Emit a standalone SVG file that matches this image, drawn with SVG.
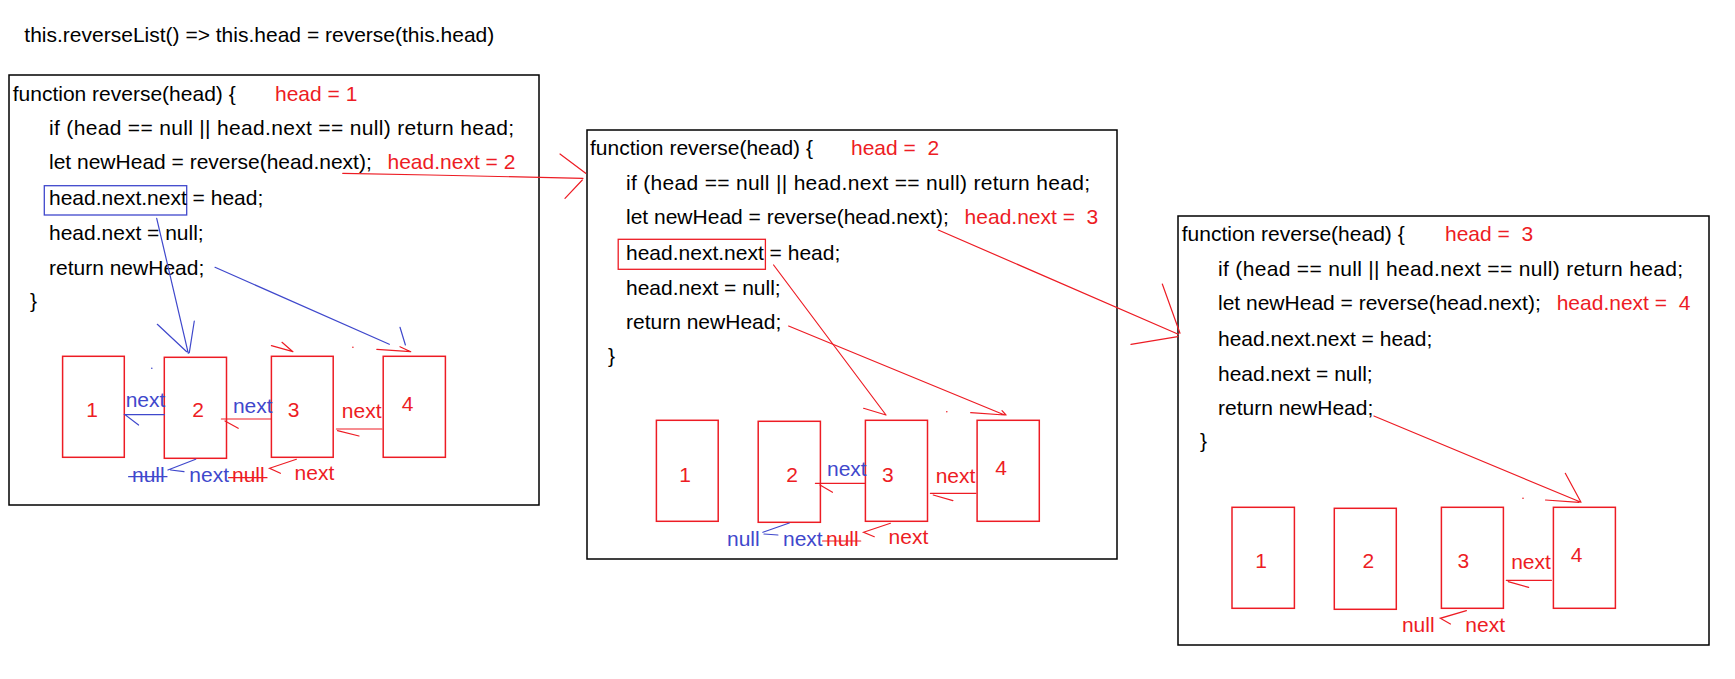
<svg xmlns="http://www.w3.org/2000/svg" width="1735" height="679" viewBox="0 0 1735 679">
  <style>
    text { font-family: "Liberation Sans", Arial, sans-serif; font-size: 21px; white-space: pre; }
    .k { fill: #000; }
    .r { fill: #ED1C24; }
    .b { fill: #3F48CC; }
    .frame { fill: none; stroke: #000; stroke-width: 1.5; }
    .cell { fill: none; stroke: #ED1C24; stroke-width: 1.5; }
    .hl-b { fill: none; stroke: #3F48CC; stroke-width: 1.3; }
    .hl-r { fill: none; stroke: #ED1C24; stroke-width: 1.3; }
    .lr { fill: none; stroke: #ED1C24; stroke-width: 1.2; stroke-linecap: round; }
    .lb { fill: none; stroke: #3F48CC; stroke-width: 1.2; stroke-linecap: round; }
    .num { text-anchor: middle; fill: #ED1C24; }
  </style>

  <rect width="1735" height="679" fill="#fff"/>

  <text class="k" x="24.3" y="42" textLength="470" lengthAdjust="spacing">this.reverseList() =&gt; this.head = reverse(this.head)</text>

  <!-- call frame: head = 1 -->
  <g id="frame-1">
    <rect class="frame" x="9" y="75" width="530" height="430"/>
    <text class="k" x="12.7" y="100.5">function reverse(head) {</text>
    <text class="r" x="275" y="100.5">head = 1</text>
    <text class="k" x="49" y="135" textLength="465" lengthAdjust="spacing">if (head == null || head.next == null) return head;</text>
    <text class="k" x="49" y="169.3">let newHead = reverse(head.next);</text>
    <text class="r" x="387.5" y="169">head.next = 2</text>
    <rect class="hl-b" x="44.3" y="185.7" width="142.4" height="29.3"/>
    <text class="k" x="49" y="205">head.next.next = head;</text>
    <text class="k" x="49" y="240">head.next = null;</text>
    <text class="k" x="49" y="274.7">return newHead;</text>
    <text class="k" x="30" y="308">}</text>
  </g>
  <g id="f1-node-1"><rect class="cell" x="62.6" y="356.3" width="61.7" height="101"/><text class="num" x="92" y="417">1</text></g>
  <g id="f1-node-2"><rect class="cell" x="164.3" y="357.3" width="62.2" height="101"/><text class="num" x="198.2" y="416.7">2</text></g>
  <g id="f1-node-3"><rect class="cell" x="271.4" y="356.3" width="61.8" height="101"/><text class="num" x="293.6" y="417">3</text></g>
  <g id="f1-node-4"><rect class="cell" x="383.2" y="356.3" width="62.2" height="101"/><text class="num" x="407.5" y="411">4</text></g>
  <g id="f1-labels">
    <text class="b" x="125.7" y="406.7">next</text>
    <text class="b" x="232.9" y="412.7">next</text>
    <text class="r" x="341.8" y="418.3">next</text>
    <text class="b" x="132" y="481.7">null</text>
    <text class="b" x="189.3" y="481.7">next</text>
    <text class="r" x="232" y="481.7">null</text>
    <text class="r" x="294.6" y="480">next</text>
  </g>

  <!-- call frame: head = 2 -->
  <g id="frame-2">
    <rect class="frame" x="587" y="130" width="530" height="429"/>
    <text class="k" x="590" y="155">function reverse(head) {</text>
    <text class="r" x="851" y="155">head =  2</text>
    <text class="k" x="626" y="190" textLength="464" lengthAdjust="spacing">if (head == null || head.next == null) return head;</text>
    <text class="k" x="626" y="224.3">let newHead = reverse(head.next);</text>
    <text class="r" x="964.6" y="224">head.next =  3</text>
    <rect class="hl-r" x="618.2" y="239.3" width="147.2" height="30"/>
    <text class="k" x="626" y="260">head.next.next = head;</text>
    <text class="k" x="626" y="295">head.next = null;</text>
    <text class="k" x="626" y="329.3">return newHead;</text>
    <text class="k" x="608" y="363.3">}</text>
  </g>
  <g id="f2-node-1"><rect class="cell" x="656.4" y="420.3" width="61.8" height="101"/><text class="num" x="685" y="481.7">1</text></g>
  <g id="f2-node-2"><rect class="cell" x="758.2" y="421.3" width="62.2" height="101"/><text class="num" x="792.1" y="481.7">2</text></g>
  <g id="f2-node-3"><rect class="cell" x="865.4" y="420.3" width="62.1" height="101"/><text class="num" x="887.9" y="481.7">3</text></g>
  <g id="f2-node-4"><rect class="cell" x="977.1" y="420.3" width="62.2" height="101"/><text class="num" x="1001" y="475">4</text></g>
  <g id="f2-labels">
    <text class="b" x="827" y="475.7">next</text>
    <text class="r" x="935.7" y="482.7">next</text>
    <text class="b" x="727" y="546">null</text>
    <text class="b" x="783" y="546">next</text>
    <text class="r" x="826" y="546">null</text>
    <text class="r" x="888.6" y="544.3">next</text>
  </g>

  <!-- call frame: head = 3 -->
  <g id="frame-3">
    <rect class="frame" x="1178" y="216" width="531" height="429"/>
    <text class="k" x="1181.7" y="240.7">function reverse(head) {</text>
    <text class="r" x="1445" y="240.7">head =  3</text>
    <text class="k" x="1218" y="276" textLength="465" lengthAdjust="spacing">if (head == null || head.next == null) return head;</text>
    <text class="k" x="1218" y="310">let newHead = reverse(head.next);</text>
    <text class="r" x="1556.7" y="310">head.next =  4</text>
    <text class="k" x="1218" y="345.7">head.next.next = head;</text>
    <text class="k" x="1218" y="380.7">head.next = null;</text>
    <text class="k" x="1218" y="415">return newHead;</text>
    <text class="k" x="1200" y="448">}</text>
  </g>
  <g id="f3-node-1"><rect class="cell" x="1232" y="507.3" width="62.4" height="101"/><text class="num" x="1261.2" y="568.3">1</text></g>
  <g id="f3-node-2"><rect class="cell" x="1334.3" y="508.3" width="62" height="101"/><text class="num" x="1368.3" y="568.3">2</text></g>
  <g id="f3-node-3"><rect class="cell" x="1441.4" y="507.3" width="62" height="101"/><text class="num" x="1463.4" y="568.3">3</text></g>
  <g id="f3-node-4"><rect class="cell" x="1553.4" y="507.3" width="62" height="101"/><text class="num" x="1576.5" y="561.7">4</text></g>
  <g id="f3-labels">
    <text class="r" x="1511.2" y="569">next</text>
    <text class="r" x="1401.9" y="631.7">null</text>
    <text class="r" x="1465.3" y="631.7">next</text>
  </g>

  <!-- hand-drawn connectors -->
  <g id="connectors">
    <!-- frame 1 -->
    <path class="lb" d="M156.7 218.3 L188.3 353.3 M157.3 324.3 L186.7 351.7 M194.3 321 L189.3 352.7"/>
    <path class="lb" d="M215 267.3 L389.3 344.3 M400 327.3 L405.4 345"/>
    <circle cx="151.8" cy="368.3" r="0.8" fill="#3F48CC"/>
    <path class="lr" d="M271.4 345.7 L292.9 351.7 M282 342.3 L292.9 351.7"/>
    <path class="lr" d="M376.8 349.3 L410.7 351.7 M400 346.7 L410.7 351.7"/>
    <circle cx="352.9" cy="347.3" r="0.8" fill="#ED1C24"/>
    <path class="lb" d="M164.3 414.7 L125 414.7 L138.6 425"/>
    <path class="lr" d="M271.4 419 L221.4 419 M225 421 L238.2 428.3"/>
    <path class="lr" d="M382 429 L336.4 429 M337.5 430.7 L359 436"/>
    <path class="lb" d="M128.6 476.7 L167 476.7"/>
    <path class="lb" d="M195.7 459.3 L167.9 470 M170.7 470 L184 471.7"/>
    <path class="lr" d="M228.6 477.7 L267 477.7"/>
    <path class="lr" d="M296.4 459.3 L269.6 468.3 L280.4 473.3"/>

    <!-- call into frame 2 -->
    <path class="lr" d="M342.7 173.3 L430 175 L583 178.3 M560 154 L585.7 173.3 M565 198.3 L582.3 180"/>

    <!-- frame 2 -->
    <path class="lr" d="M773.6 265 L886 415 M863.6 408.3 L886 415"/>
    <path class="lr" d="M788.6 326 L1004.6 415 M970.7 412.7 L1004.6 415 M1002 410.7 L1006 415"/>
    <circle cx="946.8" cy="411.7" r="0.8" fill="#ED1C24"/>
    <path class="lr" d="M865.4 483.3 L815.4 483.3 M820 485 L832.5 492.3"/>
    <path class="lr" d="M976 493.3 L930.4 493.3 M933.2 495 L952.9 500.7"/>
    <path class="lb" d="M789.3 523 L762.9 532.3 M764 534 L777.9 535"/>
    <path class="lr" d="M822.5 541 L860.7 541"/>
    <path class="lr" d="M890.4 523.3 L863.6 532.3 L874.3 536.7"/>

    <!-- call into frame 3 -->
    <path class="lr" d="M938.3 230 L1178.3 334.3 M1162.3 284 L1180 333.3 M1131 344.3 L1177.7 336.7"/>

    <!-- frame 3 -->
    <path class="lr" d="M1373.9 416 L1581 502.3 M1565.3 473.3 L1581 502.3 M1545.5 500 L1579 502.3"/>
    <circle cx="1523" cy="498.3" r="0.8" fill="#ED1C24"/>
    <path class="lr" d="M1551.5 580.3 L1506.3 580.3 M1508.2 581.7 L1528.7 587.3"/>
    <path class="lr" d="M1466.4 610.7 L1440.3 618.3 L1450.4 624"/>
  </g>
</svg>
